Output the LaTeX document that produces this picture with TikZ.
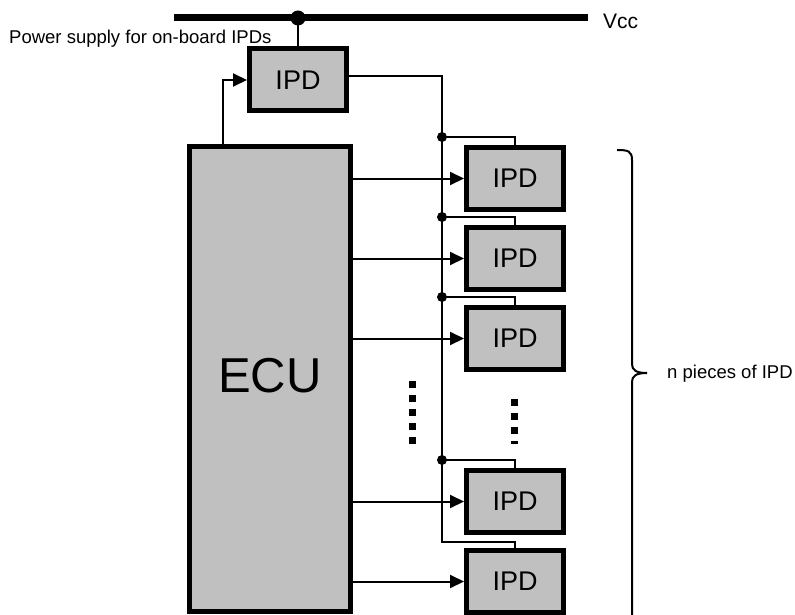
\documentclass[tikz,border=0pt]{standalone}
\usepackage{fontspec}
\setmainfont{Liberation Sans}
\usetikzlibrary{positioning,arrows.meta,calc}
\definecolor{grisbloc}{HTML}{C0C0C0}
\tikzset{
  bloc/.style     = {draw, line width=5pt, fill=grisbloc, inner sep=0pt,
                     minimum width=97pt, minimum height=62pt, font=\fontsize{27}{30}\selectfont},
  blocmare/.style = {bloc, minimum width=161pt, minimum height=465pt, font=\fontsize{49}{52}\selectfont},
  eticheta/.style = {font=\fontsize{18.5}{20}\selectfont, inner sep=0pt},
  linie/.style    = {line width=2pt},
  sageata/.style  = {linie, -{Triangle[length=14pt,width=13pt]}},
  bara/.style     = {line width=7pt},
  puncte/.style   = {line width=7pt, dash pattern=on 7pt off 7pt}
}
\begin{document}
\begin{tikzpicture}[x=1pt, y=-1pt, node distance=13pt]
        \useasboundingbox (0,0) rectangle (795,615);

        \node[blocmare] (ecu) at (270,379) {\raisebox{7pt}{ECU}};
        \node[bloc] (ipd0) at (298,80) {IPD};
        \node[bloc] (ipd1) at (515,178.5) {IPD};
        \node[bloc, below=of ipd1] (ipd2) {IPD};
        \node[bloc, below=of ipd2] (ipd3) {IPD};
        \node[bloc] (ipd4) at (515,501.5) {IPD};
        \node[bloc, below=of ipd4] (ipd5) {IPD};

        % Vcc bus
        \coordinate (vcc1) at (174,18);
        \coordinate (vcc2) at (588,18);
        \draw[bara] (vcc1) -- (vcc2);
        \node[eticheta, font=\fontsize{21}{24}\selectfont, anchor=west] (vcc) at (603,21) {Vcc};
        \node[eticheta, anchor=base west] (alim) at (9,44) {Power supply for on-board IPDs};
        \draw[linie] (ipd0.north) -- (ipd0.north |- vcc1);
        \fill (ipd0.north |- vcc1) circle (7.5pt);

        % supply to the IPD chain
        \coordinate (trunchi) at (442,542);
        \draw[linie] ([yshift=4pt]ipd0.east) -| (trunchi) -| (ipd5.north);
        \coordinate (j1) at ([yshift=8pt]trunchi |- ipd1.north);
        \coordinate (j2) at ([yshift=8pt]trunchi |- ipd2.north);
        \coordinate (j3) at ([yshift=8pt]trunchi |- ipd3.north);
        \coordinate (j4) at ([yshift=8pt]trunchi |- ipd4.north);
        \draw[linie] (j1) -| (ipd1.north);
        \draw[linie] (j2) -| (ipd2.north);
        \draw[linie] (j3) -| (ipd3.north);
        \draw[linie] (j4) -| (ipd4.north);
        \fill (j1) circle (5pt) (j2) circle (5pt) (j3) circle (5pt) (j4) circle (5pt);

        % control lines
        \draw[sageata] ([xshift=-47pt]ecu.north) |- (ipd0.west);
        \draw[sageata] (ecu.east |- ipd1.west) -- (ipd1.west);
        \draw[sageata] (ecu.east |- ipd2.west) -- (ipd2.west);
        \draw[sageata] (ecu.east |- ipd3.west) -- (ipd3.west);
        \draw[sageata] (ecu.east |- ipd4.west) -- (ipd4.west);
        \draw[sageata] (ecu.east |- ipd5.west) -- (ipd5.west);

        \draw[puncte] (412,381) -- (412,445);
        \draw[puncte] (514,399) -- (514,444);

        % brace
        \draw[linie] (617,150) .. controls (628,150) and (632,151) .. (632,160) -- (632,364)
              .. controls (632,370) and (636,373) .. (647,373);
        \draw[linie] (647,373) .. controls (636,373) and (632,376) .. (632,382) -- (632,630);
        \node[eticheta, anchor=west] (bucati) at (667,374) {n pieces of IPD};
    \end{tikzpicture}
\end{document}
